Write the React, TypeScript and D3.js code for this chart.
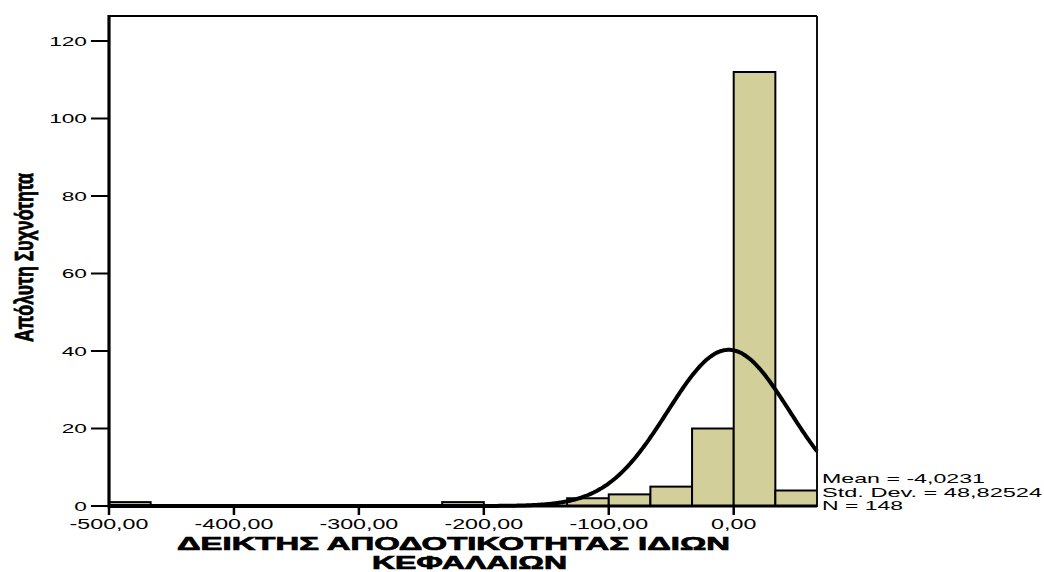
import React from "react";
import * as d3 from "d3";

// ---- data ----
const binStart = -500;
const binWidth = 100 / 3;
const binCounts = [1, 0, 0, 0, 0, 0, 0, 0, 1, 0, 0, 2, 3, 5, 20, 112, 4];
const xTickValues = [-500, -400, -300, -200, -100, 0];
const xTickLabels = ["-500,00", "-400,00", "-300,00", "-200,00", "-100,00", "0,00"];
const yTickValues = [0, 20, 40, 60, 80, 100, 120];
const statMean = -4.0231;
const statSD = 48.82524;
const statN = 148;
const legendLines = ["Mean = -4,0231", "Std. Dev. = 48,82524", "N = 148"];
const xTitleLines = ["ΔΕΙΚΤΗΣ ΑΠΟΔΟΤΙΚΟΤΗΤΑΣ ΙΔΙΩΝ", "ΚΕΦΑΛΑΙΩΝ"];
const yTitle = "Απόλυτη Συχνότητα";

const W = 1044;
const H = 572;
const plot = { left: 109, right: 817, top: 16, bottom: 506 };
const FONT = "'Liberation Sans', Arial, sans-serif";

export default function App() {
  const xMax = binStart + binWidth * binCounts.length;
  const x = d3.scaleLinear().domain([binStart, xMax]).range([plot.left, plot.right]);
  const y = d3
    .scaleLinear()
    .domain([0, (plot.bottom - plot.top) / 3.875])
    .range([plot.bottom, plot.top]);

  const bins = binCounts.map((c, i) => ({
    x0: binStart + i * binWidth,
    x1: binStart + (i + 1) * binWidth,
    c,
  }));

  const pdf = (v: number) =>
    (statN * binWidth) / (statSD * Math.sqrt(2 * Math.PI)) *
    Math.exp(-0.5 * ((v - statMean) / statSD) ** 2);
  const samples = d3.range(binStart, xMax, 1).concat([xMax]);
  const line = d3
    .line<number>()
    .x((v) => x(v))
    .y((v) => y(pdf(v)))
    .curve(d3.curveBasis);

  const legendLengths = [163, 220, 81];
  const legendBaselines = [483, 497, 510];

  return (
    <svg
      width={W}
      height={H}
      style={{ position: "absolute", left: 0, top: 0, background: "#fff" }}
      fontFamily={FONT}
    >
      <rect x={0} y={0} width={W} height={H} fill="#fff" />
      {/* bars */}
      {bins
        .filter((b) => b.c > 0)
        .map((b, i) => (
          <rect
            key={i}
            x={x(b.x0)}
            y={y(b.c)}
            width={x(b.x1) - x(b.x0)}
            height={y(0) - y(b.c)}
            fill="#d3cf9b"
            stroke="#000"
            strokeWidth={2}
          />
        ))}
      {/* normal curve */}
      <path d={line(samples) || ""} fill="none" stroke="#000" strokeWidth={4} />
      {/* frame */}
      <line x1={plot.left} x2={plot.right} y1={plot.top} y2={plot.top} stroke="#000" strokeWidth={2} />
      <line x1={plot.right} x2={plot.right} y1={plot.top} y2={plot.bottom} stroke="#111" strokeWidth={2} />
      <line x1={plot.left} x2={plot.left} y1={plot.top - 1} y2={plot.bottom + 1.5} stroke="#000" strokeWidth={3.2} />
      <line x1={plot.left} x2={plot.right} y1={plot.bottom} y2={plot.bottom} stroke="#000" strokeWidth={3.2} />
      {/* y ticks */}
      {yTickValues.map((v) => (
        <g key={v}>
          <line x1={plot.left - 18} x2={plot.left} y1={y(v)} y2={y(v)} stroke="#000" strokeWidth={2} />
          <text
            transform={`translate(87,${y(v) + 4.8}) scale(1.68,1)`}
            textAnchor="end"
            fontSize={13.5}
            fill="#000"
          >
            {v}
          </text>
        </g>
      ))}
      {/* x ticks */}
      {xTickValues.map((v, i) => (
        <g key={v}>
          <line x1={x(v)} x2={x(v)} y1={plot.bottom} y2={plot.bottom + 9} stroke="#000" strokeWidth={2.5} />
          <text
            transform={`translate(${x(v)},529) scale(1.66,1)`}
            textAnchor="middle"
            fontSize={14}
            fill="#000"
          >
            {xTickLabels[i]}
          </text>
        </g>
      ))}
      {/* x title */}
      <text
        x={177}
        y={550}
        fontSize={18.5}
        fontWeight="bold"
        stroke="#000"
        strokeWidth={0.7}
        textLength={553}
        lengthAdjust="spacingAndGlyphs"
      >
        {xTitleLines[0]}
      </text>
      <text
        x={372}
        y={569}
        fontSize={18.5}
        fontWeight="bold"
        stroke="#000"
        strokeWidth={0.7}
        textLength={195}
        lengthAdjust="spacingAndGlyphs"
      >
        {xTitleLines[1]}
      </text>
      {/* y title */}
      <text
        transform={`translate(33,342) rotate(-90)`}
        fontSize={25}
        fontWeight="bold"
        stroke="#000"
        strokeWidth={0.8}
        textLength={169}
        lengthAdjust="spacingAndGlyphs"
      >
        {yTitle}
      </text>
      {/* legend */}
      {legendLines.map((t, i) => (
        <text
          key={i}
          x={822}
          y={legendBaselines[i]}
          fontSize={13}
          textLength={legendLengths[i]}
          lengthAdjust="spacingAndGlyphs"
        >
          {t}
        </text>
      ))}
    </svg>
  );
}
